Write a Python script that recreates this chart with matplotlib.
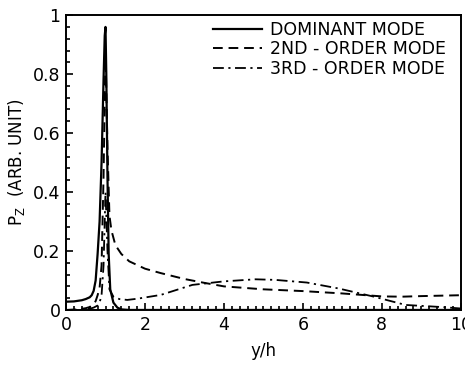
import numpy as np
import matplotlib
matplotlib.use("Agg")
import matplotlib.pyplot as plt
from matplotlib.ticker import MultipleLocator, FuncFormatter

# values
x_dom = [0, 0.2, 0.4, 0.5, 0.6, 0.65, 0.7, 0.75, 0.8, 0.85, 0.9, 0.95, 0.98, 1.0,
         1.02, 1.05, 1.08, 1.12, 1.2, 1.3, 1.4, 1.6, 10]
p_dom = [0.028, 0.029, 0.033, 0.037, 0.043, 0.05, 0.065, 0.1, 0.19, 0.3, 0.5, 0.78,
         0.93, 0.96, 0.8, 0.45, 0.19, 0.07, 0.025, 0.008, 0.002, 0, 0]

x_2nd = [0, 0.3, 0.5, 0.6, 0.7, 0.75, 0.8, 0.85, 0.9, 0.95, 1.0, 1.05, 1.1, 1.15,
         1.25, 1.4, 1.6, 2.0, 2.4, 3.0, 3.5, 4.0, 5.0, 6.0, 7.0, 7.5, 8.0, 8.5, 9.0, 10]
p_2nd = [0, 0.002, 0.006, 0.01, 0.02, 0.03, 0.05, 0.075, 0.15, 0.45, 0.88, 0.55, 0.32,
         0.27, 0.22, 0.19, 0.165, 0.14, 0.125, 0.105, 0.092, 0.08, 0.07, 0.064, 0.056,
         0.051, 0.046, 0.045, 0.047, 0.05]

x_3rd = [0, 0.4, 0.6, 0.7, 0.8, 0.85, 0.9, 0.95, 1.0, 1.05, 1.1, 1.2, 1.35, 1.55, 1.8,
         2.4, 3.2, 4.0, 4.8, 5.3, 6.1, 6.9, 7.8, 8.6, 9.5, 10]
p_3rd = [0, 0.001, 0.004, 0.008, 0.015, 0.025, 0.05, 0.15, 0.4, 0.2, 0.07, 0.045,
         0.037, 0.034, 0.038, 0.051, 0.085, 0.097, 0.104, 0.102, 0.093, 0.073, 0.045,
         0.017, 0.01, 0.005]

labels = ["DOMINANT MODE", "2ND - ORDER MODE", "3RD - ORDER MODE"]

fig = plt.figure(figsize=(4.65, 3.69), dpi=100)
ax = fig.add_axes([0.142, 0.160, 0.849, 0.799])

ax.plot(x_dom, p_dom, color="black", lw=1.6, label=labels[0])
ax.plot(x_2nd, p_2nd, color="black", lw=1.4, linestyle=(0, (5, 3)), label=labels[1])
ax.plot(x_3rd, p_3rd, color="black", lw=1.3, linestyle=(0, (6, 2.5, 1.2, 2.5)), label=labels[2])

ax.set_xlim(0, 10)
ax.set_ylim(0, 1)
ax.xaxis.set_major_locator(MultipleLocator(2))
ax.xaxis.set_minor_locator(MultipleLocator(0.2))
ax.yaxis.set_major_locator(MultipleLocator(0.2))
ax.yaxis.set_minor_locator(MultipleLocator(0.04))
ax.yaxis.set_major_formatter(FuncFormatter(lambda v, p: "%g" % round(v, 2)))
ax.tick_params(which="both", direction="in", top=False, right=False, labelsize=12.5, width=1.2)
ax.tick_params(which="major", length=5, pad=4)
ax.tick_params(which="minor", length=3)
for s in ax.spines.values():
    s.set_linewidth(1.4)

ax.set_ylabel(r"P$_\mathregular{Z}$  (ARB. UNIT)", fontsize=12, labelpad=4)
ax.set_xlabel("y/h", fontsize=12, labelpad=6)

ax.legend(loc="upper right", bbox_to_anchor=(0.985, 1.01), frameon=False, fontsize=12.5,
          handlelength=2.8, handletextpad=0.5, labelspacing=0.08, borderaxespad=0.1)

fig.savefig("out.png", dpi=100)
